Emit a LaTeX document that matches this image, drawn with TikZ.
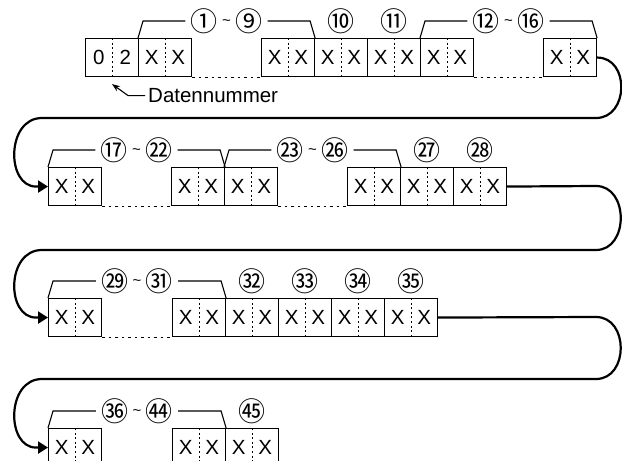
\documentclass[tikz,border=0pt]{standalone}
\usepackage{fontspec}
\setmainfont{Liberation Sans}
\newfontfamily\cjk{Noto Sans CJK JP}
\usetikzlibrary{arrows.meta,calc}

\tikzset{
  boxframe/.style={draw, line width=1.1pt, minimum width=53pt, minimum height=38pt,
                   inner sep=0pt, anchor=north west},
  ch/.style={font=\fontsize{20.5}{20.5}\selectfont, inner sep=0pt},
  divider/.style={line width=0.9pt, dash pattern=on 2pt off 2.6pt},
  gapline/.style={line width=1.1pt, dash pattern=on 2.5pt off 4pt},
  bracket/.style={line width=1.1pt},
  lab/.style={font=\fontsize{27}{27}\selectfont, inner xsep=5pt, inner ysep=0pt},
  flow/.style={line width=2.2pt},
  flowarrow/.style={flow, -{Triangle[length=10pt,width=12pt]}},
}

\newcommand\cn[1]{{\cjk #1}}
\newcommand\tl{\,\raisebox{6pt}{\fontsize{15}{15}\selectfont\textasciitilde}\,}
% name, x, y(top), char1, char2
\newcommand\dbox[5]{%
  \node[boxframe] (#1) at (#2,#3) {};
  \path (#1.center) ++(-13.25,0) node[ch] {#4};
  \path (#1.center) ++(13.25,0) node[ch] {#5};
  \draw[divider] (#1.north) -- (#1.south);
}
% left box, right box, label text, label name
\newcommand\brk[4]{%
  \node[lab] (#4) at ($(#1.north west)!0.5!(#2.north east)+(0,-17)$) {#3};
  \draw[bracket] (#1.north west) -- ++(5,-17) -- (#4.west);
  \draw[bracket] (#2.north east) -- ++(-5,-17) -- (#4.east);
}
% box, label text, label name
\newcommand\single[3]{%
  \path (#1.north) ++(0,-17) node[lab] (#3) {#2};
}

\begin{document}
\begin{tikzpicture}[x=1pt,y=-1pt]
\useasboundingbox (0,0) rectangle (622,461);
\clip (0,0) rectangle (622,461);

% ---------- row 1 ----------
\dbox{r1a}{85}{38}{0}{2}
\dbox{r1b}{138}{38}{X}{X}
\dbox{r1c}{261}{38}{X}{X}
\dbox{r1d}{314}{38}{X}{X}
\dbox{r1e}{367}{38}{X}{X}
\dbox{r1f}{420}{38}{X}{X}
\dbox{r1g}{543}{38}{X}{X}
\draw[gapline] (r1b.south east) -- (r1c.south west);
\draw[gapline] (r1f.south east) -- (r1g.south west);
\brk{r1b}{r1c}{\cn{①}\tl\cn{⑨}}{l1}
\single{r1d}{\cn{⑩}}{l2}
\single{r1e}{\cn{⑪}}{l3}
\brk{r1f}{r1g}{\cn{⑫}\tl\cn{⑯}}{l4}

\node[anchor=base west, inner sep=0pt, font=\fontsize{20.5}{20.5}\selectfont]
  (dn) at (148,102.5) {Datennummer};
\coordinate (dntip) at ([yshift=-7pt]r1a.south);
\draw[bracket, -{Stealth[length=8pt,width=6pt]}]
  ([xshift=-3pt]dn.west) -- ++(-17,0) -- (dntip);

% ---------- row 2 ----------
\dbox{r2a}{48}{167}{X}{X}
\dbox{r2b}{171}{167}{X}{X}
\dbox{r2c}{224}{167}{X}{X}
\dbox{r2d}{347}{167}{X}{X}
\dbox{r2e}{400}{167}{X}{X}
\dbox{r2f}{453}{167}{X}{X}
\draw[gapline] (r2a.south east) -- (r2b.south west);
\draw[gapline] (r2c.south east) -- (r2d.south west);
\brk{r2a}{r2b}{\cn{⑰}\tl\cn{㉒}}{l5}
\brk{r2c}{r2d}{\cn{㉓}\tl\cn{㉖}}{l6}
\single{r2e}{\cn{㉗}}{l7}
\single{r2f}{\cn{㉘}}{l8}

% ---------- row 3 ----------
\dbox{r3a}{48}{298}{X}{X}
\dbox{r3b}{172}{298}{X}{X}
\dbox{r3c}{225}{298}{X}{X}
\dbox{r3d}{278}{298}{X}{X}
\dbox{r3e}{331}{298}{X}{X}
\dbox{r3f}{384}{298}{X}{X}
\draw[gapline] (r3a.south east) -- (r3b.south west);
\brk{r3a}{r3b}{\cn{㉙}\tl\cn{㉛}}{l9}
\single{r3c}{\cn{㉜}}{l10}
\single{r3d}{\cn{㉝}}{l11}
\single{r3e}{\cn{㉞}}{l12}
\single{r3f}{\cn{㉟}}{l13}

% ---------- row 4 ----------
\dbox{r4a}{48}{428}{X}{X}
\dbox{r4b}{172}{428}{X}{X}
\dbox{r4c}{225}{428}{X}{X}
\draw[gapline] (r4a.south east) -- (r4b.south west);
\brk{r4a}{r4b}{\cn{㊱}\tl\cn{㊹}}{l14}
\single{r4c}{\cn{㊺}}{l15}

% ---------- connectors ----------
\coordinate (c1r) at (596,118);
\coordinate (c1l) at (42,118);
\draw[flowarrow] (r1g.east) .. controls +(33,0) and +(33,0) .. (c1r) -- (c1l)
  .. controls +(-36,0) and +(-30,0) .. ([xshift=-12pt]r2a.west) -- (r2a.west);

\coordinate (c2a) at (596,186);
\coordinate (c2r) at (596,250);
\coordinate (c2l) at (42,250);
\draw[flowarrow] (r2f.east) -- (c2a) .. controls +(33,0) and +(33,0) .. (c2r) -- (c2l)
  .. controls +(-36,0) and +(-30,0) .. ([xshift=-12pt]r3a.west) -- (r3a.west);

\coordinate (c3a) at (596,317);
\coordinate (c3r) at (596,379);
\coordinate (c3l) at (42,379);
\draw[flowarrow] (r3f.east) -- (c3a) .. controls +(33,0) and +(33,0) .. (c3r) -- (c3l)
  .. controls +(-36,0) and +(-30,0) .. ([xshift=-12pt]r4a.west) -- (r4a.west);

\end{tikzpicture}
\end{document}
